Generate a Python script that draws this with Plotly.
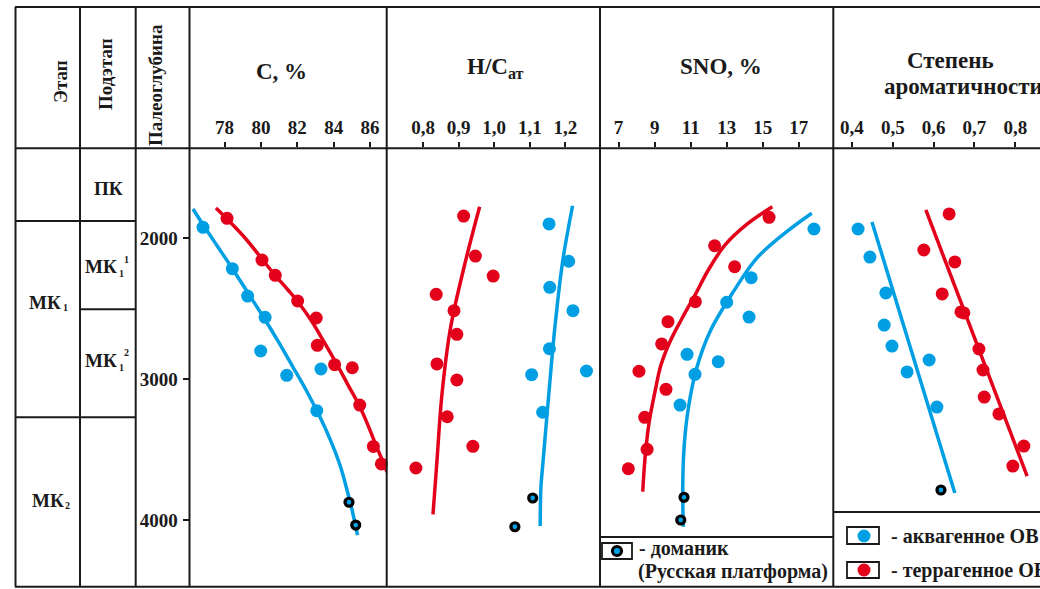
import plotly.graph_objects as go

W, H = 1040, 589
def px(x): return x / W
def py(y): return 1 - y / H

BLUE = "#009fe3"
RED = "#e3001b"
FONT = "Liberation Serif"
INK = "#1a1a1a"

# ---------------- data (depth in m) ----------------
depth_ticks = [2000, 3000, 4000]

# C, %
c_ticks = [78, 80, 82, 84, 86]
c_aqua = [76.82, 78.43, 79.27, 80.23, 79.99, 81.42, 83.30, 83.07]
c_aqua_d = [1922, 2216, 2410, 2561, 2800, 2973, 2928, 3224]
c_terr = [78.14, 80.06, 80.79, 82.02, 83.04, 83.10, 84.05, 85.02, 85.43, 86.18, 86.62]
c_terr_d = [1858, 2154, 2263, 2445, 2566, 2760, 2897, 2919, 3184, 3478, 3602]
c_dom = [84.84, 85.21]
c_dom_d = [3874, 4036]
c_aqua_fit = [76.27, 76.87, 77.64, 78.41, 79.29, 80.17, 81.00, 81.76, 82.48, 83.08, 83.58, 84.04, 84.43, 84.73, 85.01, 85.31]
c_aqua_fit_d = [1792, 1913, 2062, 2211, 2388, 2566, 2743, 2914, 3077, 3226, 3361, 3503, 3645, 3787, 3929, 4107]
c_terr_fit = [77.53, 78.14, 79.13, 80.06, 80.77, 81.49, 82.04, 82.75, 83.47, 84.13, 84.79, 85.39, 85.88, 86.32, 86.71, 86.93]
c_terr_fit_d = [1785, 1863, 1998, 2147, 2261, 2367, 2452, 2580, 2736, 2885, 3042, 3184, 3326, 3468, 3588, 3659]

# H/C atomic
hc_ticks = [0.8, 0.9, 1.0, 1.1, 1.2]
hc_labels = ["0,8", "0,9", "1,0", "1,1", "1,2"]
hc_aqua = [1.154, 1.209, 1.156, 1.221, 1.155, 1.105, 1.259, 1.136]
hc_aqua_d = [1898, 2163, 2348, 2514, 2784, 2968, 2942, 3235]
hc_terr = [0.914, 0.947, 0.997, 0.837, 0.887, 0.895, 0.839, 0.895, 0.868, 0.940, 0.780]
hc_terr_d = [1842, 2126, 2268, 2398, 2514, 2682, 2892, 3006, 3267, 3477, 3631]
hc_dom = [1.108, 1.058]
hc_dom_d = [3844, 4048]
hc_terr_fit = [0.959, 0.919, 0.877, 0.853, 0.839, 0.828]
hc_terr_fit_d = [1776, 2166, 2639, 3113, 3586, 3960]
hc_aqua_fit = [1.220, 1.192, 1.170, 1.153, 1.137, 1.131, 1.129]
hc_aqua_fit_d = [1769, 2166, 2639, 3113, 3586, 3773, 4043]

# SNO, %
sno_ticks = [7, 9, 11, 13, 15, 17]
sno_terr = [15.35, 12.33, 13.44, 11.26, 9.74, 9.39, 8.13, 9.63, 8.45, 8.58, 7.54]
sno_terr_d = [1851, 2053, 2202, 2450, 2592, 2750, 2944, 3072, 3271, 3498, 3636]
sno_aqua = [17.84, 14.36, 13.00, 14.24, 10.80, 12.53, 11.24, 10.41]
sno_aqua_d = [1934, 2280, 2454, 2559, 2824, 2876, 2966, 3184]
sno_dom = [10.63, 10.45]
sno_dom_d = [3839, 4000]
sno_terr_fit = [15.53, 14.11, 12.90, 11.98, 11.24, 10.50, 9.85, 9.35, 9.02, 8.70, 8.48, 8.34]
sno_terr_fit_d = [1776, 1901, 2048, 2225, 2403, 2573, 2734, 2900, 3089, 3302, 3539, 3799]
sno_aqua_fit = [17.72, 16.33, 14.66, 13.37, 12.07, 11.33, 10.87, 10.63, 10.56, 10.59]
sno_aqua_fit_d = [1822, 1953, 2142, 2379, 2663, 2923, 3207, 3491, 3775, 4048]

# aromaticity degree
ar_ticks = [0.4, 0.5, 0.6, 0.7, 0.8]
ar_labels = ["0,4", "0,5", "0,6", "0,7", "0,8"]
ar_aqua = [0.415, 0.444, 0.483, 0.479, 0.498, 0.589, 0.535, 0.608]
ar_aqua_d = [1934, 2133, 2388, 2616, 2765, 2864, 2949, 3198]
ar_terr = [0.638, 0.576, 0.652, 0.621, 0.667, 0.674, 0.711, 0.721, 0.724, 0.760, 0.821, 0.794]
ar_terr_d = [1827, 2083, 2168, 2395, 2523, 2530, 2786, 2935, 3127, 3247, 3475, 3617]
ar_dom = [0.618]
ar_dom_d = [3787]
ar_aqua_fit = [0.449, 0.652]
ar_aqua_fit_d = [1884, 3808]
ar_terr_fit = [0.581, 0.829]
ar_terr_fit_d = [1799, 3688]

# ---------------- figure ----------------
fig = go.Figure()

panels = [
    ("x", c_aqua_fit, c_aqua_fit_d, c_terr_fit, c_terr_fit_d, c_aqua, c_aqua_d, c_terr, c_terr_d, c_dom, c_dom_d, "spline"),
    ("x2", hc_aqua_fit, hc_aqua_fit_d, hc_terr_fit, hc_terr_fit_d, hc_aqua, hc_aqua_d, hc_terr, hc_terr_d, hc_dom, hc_dom_d, "spline"),
    ("x3", sno_aqua_fit, sno_aqua_fit_d, sno_terr_fit, sno_terr_fit_d, sno_aqua, sno_aqua_d, sno_terr, sno_terr_d, sno_dom, sno_dom_d, "spline"),
    ("x4", ar_aqua_fit, ar_aqua_fit_d, ar_terr_fit, ar_terr_fit_d, ar_aqua, ar_aqua_d, ar_terr, ar_terr_d, ar_dom, ar_dom_d, "linear"),
]

for xa, afx, afd, tfx, tfd, ax_, ad, tx, td, dx, dd, shape in panels:
    fig.add_trace(go.Scatter(x=afx, y=afd, xaxis=xa, yaxis="y", mode="lines",
                             line=dict(color=BLUE, width=3.5, shape=shape), hoverinfo="skip"))
    fig.add_trace(go.Scatter(x=tfx, y=tfd, xaxis=xa, yaxis="y", mode="lines",
                             line=dict(color=RED, width=3.5, shape=shape), hoverinfo="skip"))
    fig.add_trace(go.Scatter(x=ax_, y=ad, xaxis=xa, yaxis="y", mode="markers", cliponaxis=False,
                             marker=dict(color=BLUE, size=13, line=dict(width=0))))
    fig.add_trace(go.Scatter(x=tx, y=td, xaxis=xa, yaxis="y", mode="markers", cliponaxis=False,
                             marker=dict(color=RED, size=13, line=dict(width=0))))
    fig.add_trace(go.Scatter(x=dx, y=dd, xaxis=xa, yaxis="y", mode="markers", cliponaxis=False,
                             marker=dict(color=BLUE, size=8, line=dict(width=3.2, color="black"))))

tickfont = dict(family=FONT, size=19, color=INK, weight="bold")
y_top, y_bot = 148.3, 586.7
ydom = [py(y_bot), py(y_top)]

def xaxis(domain, rng, tv, tt):
    return dict(domain=[px(domain[0]), px(domain[1])], range=rng, side="top", anchor="y",
                tickvals=tv, ticktext=tt, ticks="outside", ticklen=5, tickwidth=1.5,
                tickcolor=INK, showgrid=False, zeroline=False, showline=False,
                tickfont=tickfont, ticklabelstandoff=1, fixedrange=True)

fig.update_layout(
    width=W, height=H, margin=dict(l=0, r=0, t=0, b=0),
    paper_bgcolor="white", plot_bgcolor="white", showlegend=False,
    xaxis=xaxis((189.5, 386.7), [76.077, 86.912], c_ticks, [str(v) for v in c_ticks]),
    xaxis2=xaxis((386.7, 600), [0.698, 1.297], hc_ticks, hc_labels),
    xaxis3=xaxis((600, 833.3), [5.968, 18.915], sno_ticks, [str(v) for v in sno_ticks]),
    xaxis4=xaxis((833.3, 1040), [0.3543, 0.8606], ar_ticks, ar_labels),
    yaxis=dict(domain=ydom, range=[4473.6, 1361], anchor="x", tickvals=depth_ticks,
               ticktext=[str(v) for v in depth_ticks], ticks="outside", ticklen=6,
               tickwidth=1.5, tickcolor=INK, showgrid=False, zeroline=False,
               showline=False, tickfont=tickfont, ticklabelstandoff=1, fixedrange=True),
)

# ---------------- table frame ----------------
shapes = []
def hline(y, x0, x1, w=2):
    shapes.append(dict(type="line", xref="paper", yref="paper", x0=px(x0), x1=px(x1),
                       y0=py(y), y1=py(y), line=dict(color=INK, width=w)))
def vline(x, y0, y1, w=2):
    shapes.append(dict(type="line", xref="paper", yref="paper", x0=px(x), x1=px(x),
                       y0=py(y0), y1=py(y1), line=dict(color=INK, width=w)))

hline(7, 15, 1040)
hline(148.3, 15, 1040)
hline(586.7, 15, 1040)
hline(221, 15, 136)
hline(309.3, 80, 136)
hline(417.3, 15, 136)
hline(537, 600, 833.3)
hline(512, 833.3, 1040)
for xv in (15.5, 80, 135.7, 189.5, 386.7, 600, 833.3):
    vline(xv, 7, 586.7)

# legend symbols
def rect(x0, y0, x1, y1):
    shapes.append(dict(type="rect", xref="paper", yref="paper", x0=px(x0), x1=px(x1),
                       y0=py(y1), y1=py(y0), line=dict(color=INK, width=1.8), fillcolor="white"))
def circ(cx, cy, r, fill, lw=0, lc="black"):
    shapes.append(dict(type="circle", xref="paper", yref="paper", x0=px(cx - r), x1=px(cx + r),
                       y0=py(cy + r), y1=py(cy - r), fillcolor=fill,
                       line=dict(color=lc, width=lw)))

rect(602, 543, 632, 559)
circ(617, 551, 4.6, BLUE, 3, "black")
rect(847, 527, 879, 544)
circ(864, 536, 6.5, BLUE)
rect(847, 562, 879, 578)
circ(864, 570, 6.5, RED)

fig.update_layout(shapes=shapes)

# ---------------- text ----------------
ann = []
def text(x, y, s, size=19, xanchor="center", angle=0, yanchor="middle"):
    ann.append(dict(xref="paper", yref="paper", x=px(x), y=py(y), text=s, showarrow=False,
                    xanchor=xanchor, yanchor=yanchor, textangle=angle,
                    font=dict(family=FONT, size=size, color=INK, weight="bold")))

text(61, 82, "Этап", 19, angle=-90)
text(106, 74, "Подэтап", 19, angle=-90)
text(155, 85, "Палеоглубина", 19, angle=-90)
text(281, 71, "C, %", 23)
text(495, 68, "H/C<sub>ат</sub>", 23)
text(721, 67, "SNO, %", 23)
text(950, 61, "Степень", 23)
text(882, 87, "ароматичности", 23, xanchor="left")

text(108, 188, "ПК", 19)
text(63, 302, "МК", 19, xanchor="right")
text(60.5, 307, "1", 10, xanchor="left")
text(119, 267, "МК", 19, xanchor="right")
text(116.5, 274, "1", 10, xanchor="left")
text(121.5, 259, "1", 10, xanchor="left")
text(119, 360, "МК", 19, xanchor="right")
text(116.5, 367, "1", 10, xanchor="left")
text(121.5, 352, "2", 10, xanchor="left")
text(66, 500, "МК", 19, xanchor="right")
text(62.5, 505, "2", 10, xanchor="left")

text(637, 548, "- доманик", 20, xanchor="left")
text(636, 571, "(Русская платформа)", 20, xanchor="left")
text(889, 536, "- аквагенное ОВ", 20, xanchor="left")
text(889, 570, "- террагенное ОВ", 20, xanchor="left")

fig.update_layout(annotations=ann)

fig.write_html("out.html", config={"displayModeBar": False})
